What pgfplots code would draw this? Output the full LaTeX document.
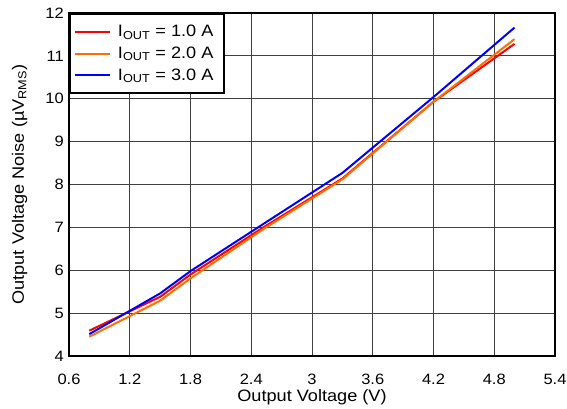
\documentclass[border=0pt]{standalone}
\usepackage{fontspec}
\setmainfont{Liberation Sans}[FakeStretch=1.1]
\usepackage{pgfplots}
\pgfplotsset{compat=1.18}
\definecolor{cRed}{RGB}{255,0,0}
\definecolor{cOrange}{RGB}{255,110,0}
\definecolor{cBlue}{RGB}{0,0,255}
\begin{document}
\fontsize{15pt}{17pt}\selectfont
\begin{tikzpicture}
\useasboundingbox (-69pt,-53pt) rectangle (498pt,356pt);
\begin{axis}[
  at={(0pt,0pt)}, anchor=south west,
  scale only axis, width=486pt, height=343pt,
  xmin=0.6, xmax=5.4, ymin=4, ymax=12,
  xtick={0.6,1.2,1.8,2.4,3,3.6,4.2,4.8,5.4},
  xticklabels={0.6,1.2,1.8,2.4,3,3.6,4.2,4.8,5.4},
  ytick={4,5,6,7,8,9,10,11,12},
  major tick length=0pt,
  grid=major,
  major grid style={black!75, line width=0.9pt},
  axis line style={line width=2.2pt},
  tick label style={font=\fontsize{15pt}{17pt}\selectfont},
  label style={font=\fontsize{16.5pt}{19pt}\selectfont},
  /pgf/number format/assume math mode=true,
  xticklabel style={yshift=-13pt},
  yticklabel style={xshift=0pt},
  xlabel={Output Voltage (V)},
  ylabel={Output Voltage Noise (µV\textsubscript{RMS})},
  xlabel style={yshift=5pt},
  ylabel style={yshift=8pt},
  legend style={at={(0,1)}, anchor=north west, draw=black, line width=2pt,
    font=\fontsize{16.5pt}{19pt}\selectfont, inner xsep=4pt, inner ysep=8pt,
    row sep=2pt, nodes={inner xsep=7pt, inner ysep=3pt}},
  legend cell align=left,
  legend image code/.code={\draw[#1, line width=2pt] (0pt,0pt) -- (35pt,0pt);},
]
\addplot[cRed, line width=2pt] coordinates {
 (0.8,4.59) (1.5,5.38) (1.8,5.90) (2.5,6.97) (3.3,8.14) (4.2,9.93) (5.0,11.28)};
\addlegendentry{I\textsubscript{OUT} = 1.0 A}
\addplot[cOrange, line width=2pt] coordinates {
 (0.8,4.45) (1.5,5.29) (1.8,5.81) (2.5,6.93) (3.3,8.12) (4.2,9.93) (5.0,11.39)};
\addlegendentry{I\textsubscript{OUT} = 2.0 A}
\addplot[cBlue, line width=2pt] coordinates {
 (0.8,4.51) (1.5,5.46) (1.8,5.98) (2.5,7.05) (3.3,8.27) (4.2,10.04) (5.0,11.66)};
\addlegendentry{I\textsubscript{OUT} = 3.0 A}
\end{axis}
\end{tikzpicture}
\end{document}
